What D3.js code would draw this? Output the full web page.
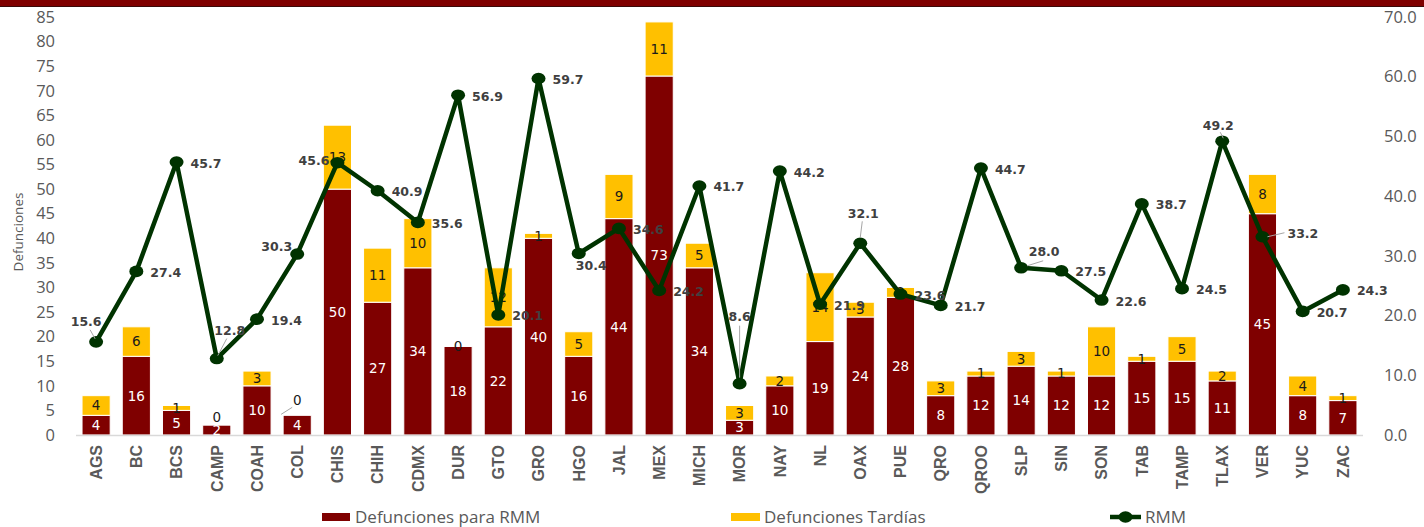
<!DOCTYPE html>
<html><head><meta charset="utf-8">
<script src="https://cdn.jsdelivr.net/npm/d3@7/dist/d3.min.js"></script>
<style>
html,body{margin:0;padding:0;background:#fff;}
svg{display:block;}
</style></head>
<body>
<svg id="chart" width="1424" height="527"></svg>
<script>
const categories = ["AGS","BC","BCS","CAMP","COAH","COL","CHIS","CHIH","CDMX","DUR","GTO","GRO","HGO","JAL","MEX","MICH","MOR","NAY","NL","OAX","PUE","QRO","QROO","SLP","SIN","SON","TAB","TAMP","TLAX","VER","YUC","ZAC"];
const defuncionesRMM = [4,16,5,2,10,4,50,27,34,18,22,40,16,44,73,34,3,10,19,24,28,8,12,14,12,12,15,15,11,45,8,7];
const defuncionesTardias = [4,6,1,0,3,0,13,11,10,0,12,1,5,9,11,5,3,2,14,3,2,3,1,3,1,10,1,5,2,8,4,1];
const rmm = [15.6,27.4,45.7,12.8,19.4,30.3,45.6,40.9,35.6,56.9,20.1,59.7,30.4,34.6,24.2,41.7,8.6,44.2,21.9,32.1,23.6,21.7,44.7,28.0,27.5,22.6,38.7,24.5,49.2,33.2,20.7,24.3];
const leftTicks = [0,5,10,15,20,25,30,35,40,45,50,55,60,65,70,75,80,85];
const rightTicks = [0,10,20,30,40,50,60,70];
const seriesNames = ["Defunciones para RMM","Defunciones Tardías","RMM"];

// styling / label placement (not data)
const C_RED = "#7f0000", C_YEL = "#ffc000", C_LINE = "#003300", C_TXT = "#595959";
const lineLabelPlace = {
  AGS:{dx:-10,dy:-20,anchor:"middle",leader:[-6,-12,-1,-3]},
  CAMP:{dx:13,dy:-28,anchor:"middle",leader:[10,-20,1,-3]},
  COL:{dx:-5,dy:-8,anchor:"end"},
  CHIS:{dx:-8,dy:-2,anchor:"end"},
  HGO:{dx:-3,dy:12,anchor:"start"},
  MOR:{dx:0,dy:-67,anchor:"middle",leader:[0,-58,0,-6]},
  OAX:{dx:3,dy:-30,anchor:"middle",leader:[2,-22,0,-6]},
  SLP:{dx:23,dy:-16,anchor:"middle",leader:[6,-2,22,-7]},
  TLAX:{dx:-4,dy:-16,anchor:"middle",leader:[-2,-9,1,-3]},
  VER:{dx:25,dy:-3,anchor:"start",leader:[5,0,22,-4]}
};
const zeroLabelPlace = {CAMP:{dy:-8}, COL:{dy:-15,leader:true}, DUR:{dy:0}};

const svg = d3.select("#chart");
const W = 1424, H = 527;
const plotTop = 17, plotBottom = 435, plotLeft = 76, plotRight = 1363;

// top band
svg.append("rect").attr("x",0).attr("y",0).attr("width",W).attr("height",6).attr("fill",C_RED);
svg.append("rect").attr("x",0).attr("y",6).attr("width",W).attr("height",1).attr("fill","#3a0a0a");

const x = d3.scaleBand().domain(categories).range([plotLeft, plotRight]).paddingInner(0.3).paddingOuter(0.15);
const yL = d3.scaleLinear().domain([0,85]).range([plotBottom, plotTop]);
const yR = d3.scaleLinear().domain([0,70]).range([plotBottom, plotTop]);

// left axis
const gL = svg.append("g").attr("transform",`translate(58,0)`)
  .call(d3.axisLeft(yL).tickValues(leftTicks).tickSize(0).tickPadding(3));
gL.select(".domain").remove();
gL.selectAll("text").attr("fill",C_TXT).style("font-family","'Open Sans'").style("font-size","16.5px");

// right axis
const gR = svg.append("g").attr("transform",`translate(1381,0)`)
  .call(d3.axisRight(yR).tickValues(rightTicks).tickFormat(d3.format(".1f")).tickSize(0).tickPadding(3));
gR.select(".domain").remove();
gR.selectAll("text").attr("fill",C_TXT).style("font-family","'Open Sans'").style("font-size","16.5px");

// y title
svg.append("text").attr("transform","translate(23,232) rotate(-90)")
  .attr("text-anchor","middle").attr("fill",C_TXT)
  .style("font-family","'Open Sans'").style("font-size","13.5px").text("Defunciones");

// bars
const rows = categories.map((c,i)=>({c, a:defuncionesRMM[i], b:defuncionesTardias[i], r:rmm[i]}));
const bw = x.bandwidth();
const gBars = svg.append("g");
gBars.selectAll("rect.a").data(rows).join("rect").attr("class","a")
  .attr("x",d=>x(d.c)).attr("width",bw)
  .attr("y",d=>yL(d.a)).attr("height",d=>yL(0)-yL(d.a))
  .attr("fill",C_RED).attr("stroke","#fff").attr("stroke-width",1);
gBars.selectAll("rect.b").data(rows.filter(d=>d.b>0)).join("rect").attr("class","b")
  .attr("x",d=>x(d.c)).attr("width",bw)
  .attr("y",d=>yL(d.a+d.b)).attr("height",d=>yL(d.a)-yL(d.a+d.b))
  .attr("fill",C_YEL).attr("stroke","#fff").attr("stroke-width",1);

// baseline
svg.append("line").attr("x1",plotLeft).attr("x2",plotRight).attr("y1",plotBottom+0.5).attr("y2",plotBottom+0.5)
  .attr("stroke","#d9d9d9").attr("stroke-width",1.5);

// x axis
const gX = svg.append("g").attr("transform",`translate(0,${plotBottom})`)
  .call(d3.axisBottom(x).tickSize(0).tickPadding(0));
gX.select(".domain").remove();
gX.selectAll("text").attr("transform","rotate(-90)").attr("x",-10).attr("y",0).attr("dy","0.36em")
  .attr("text-anchor","end").attr("fill",C_TXT)
  .style("font-family","'Liberation Sans Narrow','Liberation Sans',sans-serif").style("font-weight","bold").style("font-size","16px");

// segment labels
const segFont = "'DejaVu Sans'";
const gSeg = svg.append("g").style("font-family",segFont).style("font-size","13.5px").attr("text-anchor","middle");
gSeg.selectAll("text.a").data(rows).join("text").attr("class","a")
  .attr("x",d=>x(d.c)+bw/2).attr("y",d=>(yL(0)+yL(d.a))/2).attr("dy","0.36em")
  .attr("fill","#fff").text(d=>d.a);
gSeg.selectAll("text.b").data(rows).join("text").attr("class","b")
  .attr("x",d=>x(d.c)+bw/2)
  .attr("y",d=>{
    if(d.b===0){ const p = zeroLabelPlace[d.c]||{dy:0}; return yL(d.a)+p.dy; }
    return (yL(d.a)+yL(d.a+d.b))/2;
  }).attr("dy","0.36em")
  .attr("fill","#1a1a1a").text(d=>d.b);
rows.filter(d=>d.b===0 && zeroLabelPlace[d.c] && zeroLabelPlace[d.c].leader).forEach(d=>{
  const cx = x(d.c)+bw/2, ty = yL(d.a);
  svg.append("line").attr("x1",x(d.c)-2).attr("y1",ty-1).attr("x2",cx-5).attr("y2",ty-8)
    .attr("stroke","#a6a6a6").attr("stroke-width",1);
});

// line
const cxOf = d=>x(d.c)+bw/2;
const line = d3.line().x(cxOf).y(d=>yR(d.r));
svg.append("path").datum(rows).attr("d",line).attr("fill","none")
  .attr("stroke",C_LINE).attr("stroke-width",4.5).attr("stroke-linejoin","round");
svg.append("g").selectAll("ellipse").data(rows).join("ellipse")
  .attr("cx",cxOf).attr("cy",d=>yR(d.r)).attr("rx",7).attr("ry",5.8).attr("fill",C_LINE);

// line labels
const gLL = svg.append("g").style("font-family","'DejaVu Sans'").style("font-weight","bold").style("font-size","12.5px");
rows.forEach(d=>{
  const p = lineLabelPlace[d.c] || {dx:14,dy:1,anchor:"start"};
  const px = cxOf(d), py = yR(d.r);
  if(p.leader){
    gLL.append("line").attr("x1",px+p.leader[0]).attr("y1",py+p.leader[1])
      .attr("x2",px+p.leader[2]).attr("y2",py+p.leader[3])
      .attr("stroke","#a6a6a6").attr("stroke-width",1);
  }
  gLL.append("text").attr("x",px+p.dx).attr("y",py+p.dy).attr("dy","0.36em")
    .attr("text-anchor",p.anchor).attr("fill","#404040").text(d3.format(".1f")(d.r));
});

// legend
const gLeg = svg.append("g").style("font-family","'Open Sans'").style("font-size","17px").attr("fill",C_TXT);
gLeg.append("rect").attr("x",322).attr("y",513).attr("width",28).attr("height",8).attr("fill",C_RED);
gLeg.append("text").attr("x",355).attr("y",517).attr("dy","0.36em").text(seriesNames[0]);
gLeg.append("rect").attr("x",731).attr("y",513).attr("width",29).attr("height",8).attr("fill",C_YEL);
gLeg.append("text").attr("x",764).attr("y",517).attr("dy","0.36em").text(seriesNames[1]);
gLeg.append("line").attr("x1",1110).attr("x2",1141).attr("y1",517).attr("y2",517).attr("stroke",C_LINE).attr("stroke-width",4.5);
gLeg.append("ellipse").attr("cx",1125.5).attr("cy",517).attr("rx",7).attr("ry",5.8).attr("fill",C_LINE);
gLeg.append("text").attr("x",1145).attr("y",517).attr("dy","0.36em").text(seriesNames[2]);
</script>
</body></html>
